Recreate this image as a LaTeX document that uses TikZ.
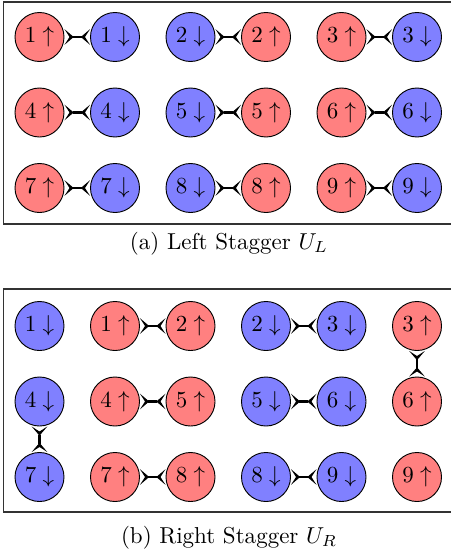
\documentclass[tikz,border=0pt]{standalone}
\usetikzlibrary{arrows.meta}
\definecolor{upcol}{RGB}{255,128,128}
\definecolor{dncol}{RGB}{128,128,255}
\tikzset{
  site/.style={circle,draw=black,line width=0.4pt,minimum size=21.3pt,inner sep=0pt},
  upsite/.style={site,fill=upcol},
  dnsite/.style={site,fill=dncol},
  bondtip/.tip={Stealth[reversed,length=4pt,width=6.8pt,inset=2.2pt]},
  bond/.style={bondtip-bondtip,line width=1.1pt},
  frame/.style={draw=black!80,line width=0.5pt},
  captext/.style={inner sep=0pt,anchor=base}
}
\newcommand{\upst}[1]{$#1\uparrow$}
\newcommand{\dnst}[1]{$#1\downarrow$}
\begin{document}
\begin{tikzpicture}[x=0.4345pt,y=-0.4345pt]
\useasboundingbox (0,0) rectangle (451,554);
% frames
\draw[frame] (3.5,2) rectangle (454,224);
\draw[frame] (3.5,289) rectangle (454,512);
\node[captext] (capa) at (229,249.5) {(a) Left Stagger $U_L$};
\node[captext] (capb) at (229,543.5) {(b) Right Stagger $U_R$};
% top: left stagger
\foreach \r/\y in {0/37,1/112.5,2/188}{
  \pgfmathtruncatemacro{\a}{3*\r+1}
  \pgfmathtruncatemacro{\b}{3*\r+2}
  \pgfmathtruncatemacro{\c}{3*\r+3}
  \node[upsite] (La\a u) at (39.5,\y) {\upst{\a}};
  \node[dnsite] (La\a d) at (115,\y) {\dnst{\a}};
  \node[dnsite] (La\b d) at (190.5,\y) {\dnst{\b}};
  \node[upsite] (La\b u) at (266,\y) {\upst{\b}};
  \node[upsite] (La\c u) at (341.5,\y) {\upst{\c}};
  \node[dnsite] (La\c d) at (417,\y) {\dnst{\c}};
  \draw[bond] (La\a u) -- (La\a d);
  \draw[bond] (La\b d) -- (La\b u);
  \draw[bond] (La\c u) -- (La\c d);
}
% bottom: right stagger
\foreach \r/\y in {0/326,1/401.5,2/477}{
  \pgfmathtruncatemacro{\a}{3*\r+1}
  \pgfmathtruncatemacro{\b}{3*\r+2}
  \pgfmathtruncatemacro{\c}{3*\r+3}
  \node[dnsite] (Rb\a d) at (39.5,\y) {\dnst{\a}};
  \node[upsite] (Rb\a u) at (115,\y) {\upst{\a}};
  \node[upsite] (Rb\b u) at (190.5,\y) {\upst{\b}};
  \node[dnsite] (Rb\b d) at (266,\y) {\dnst{\b}};
  \node[dnsite] (Rb\c d) at (341.5,\y) {\dnst{\c}};
  \node[upsite] (Rb\c u) at (417,\y) {\upst{\c}};
  \draw[bond] (Rb\a u) -- (Rb\b u);
  \draw[bond] (Rb\b d) -- (Rb\c d);
}
\draw[bond] (Rb4d) -- (Rb7d);
\draw[bond] (Rb3u) -- (Rb6u);
\end{tikzpicture}
\end{document}
